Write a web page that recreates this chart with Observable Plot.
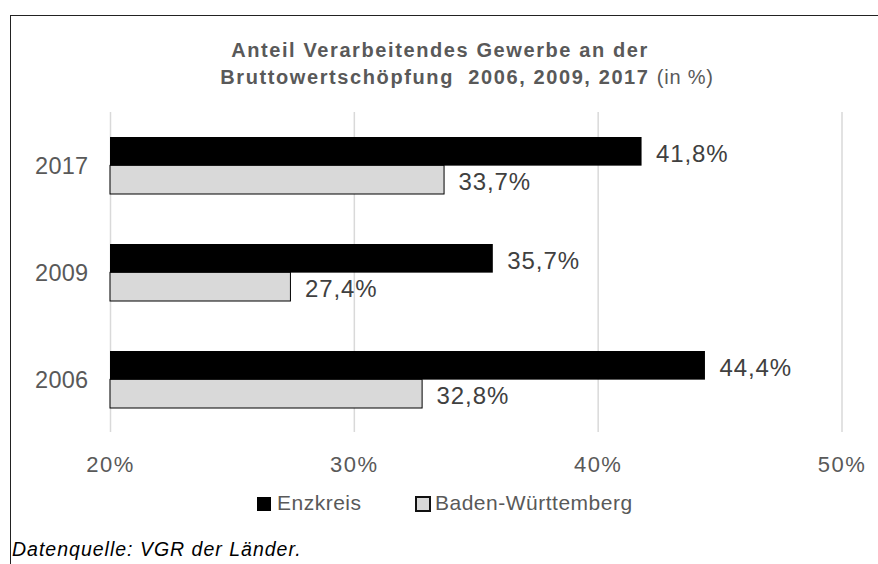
<!DOCTYPE html>
<html>
<head>
<meta charset="utf-8">
<script src="https://cdn.jsdelivr.net/npm/d3@7"></script>
<script src="https://cdn.jsdelivr.net/npm/@observablehq/plot@0.6"></script>
<style>
  html, body { margin: 0; padding: 0; background: #fff; }
  #wrap { position: relative; width: 878px; height: 564px; overflow: hidden; font-family: "Liberation Sans", Arial, sans-serif; }
  #frame { position: absolute; left: 10px; top: 15px; width: 900px; height: 600px; border-top: 1px solid #222; border-left: 1px solid #222; }
  #chart { position: absolute; left: 0; top: 0; }
  .t { position: absolute; white-space: nowrap; color: #595959; font-weight: bold; font-size: 20px; line-height: 20px; letter-spacing: 1.6px; transform: translateX(-50%); }
  .t .n { font-weight: normal; letter-spacing: 0.8px; }
  .item { position: absolute; top: 492px; font-size: 21px; line-height: 21px; color: #595959; white-space: nowrap; letter-spacing: 0.5px; }
  .item .sw { display: inline-block; width: 14px; height: 14px; vertical-align: -1px; margin-right: 6px; box-sizing: border-box; }
  #caption { position: absolute; left: 12px; top: 540px; font-size: 19.5px; line-height: 19.5px; font-style: italic; color: #000; white-space: nowrap; letter-spacing: 1px; }
</style>
</head>
<body>
<div id="wrap">
  <div id="frame"></div>
  <div id="chart"></div>
  <div class="t" style="top:40px; left:440px;">Anteil Verarbeitendes Gewerbe an der</div>
  <div class="t" style="top:67px; left:467px;">Bruttowertschöpfung&nbsp; 2006, 2009, 2017 <span class="n">(in %)</span></div>
  <div id="legend"></div>
  <div id="caption">Datenquelle: VGR der Länder.</div>
</div>
<script>
const years = ["2017", "2009", "2006"];
const enzkreis = [41.8, 35.7, 44.4];
const badenWuerttemberg = [33.7, 27.4, 32.8];
const xTicks = [20, 30, 40, 50];
const seriesNames = ["Enzkreis", "Baden-Württemberg"];
const seriesFill = ["#000000", "#d9d9d9"];

const data = years.map((y, i) => ({year: y, enz: enzkreis[i], bw: badenWuerttemberg[i]}));
const fmt = v => v.toFixed(1).replace(".", ",") + "%";

const H = 564, mTop = 112, mBottom = 132;
const padInner = 0.47, padOuter = 0.23;
const step = (H - mTop - mBottom) / (years.length - padInner + 2 * padOuter);
const half = step * (1 - padInner) / 2;

const chart = Plot.plot({
  width: 878,
  height: H,
  marginLeft: 110,
  marginRight: 36.5,
  marginTop: mTop,
  marginBottom: mBottom,
  style: {fontFamily: "'Liberation Sans', Arial, sans-serif", fontSize: "21px", color: "#595959", background: "transparent"},
  x: {domain: [20, 50], label: null},
  y: {domain: years, paddingInner: padInner, paddingOuter: padOuter, label: null},
  marks: [
    Plot.ruleX(xTicks, {stroke: "#d9d9d9", strokeWidth: 1.5}),
    Plot.barX(data, {y: "year", x1: d => 20, x2: "enz", fill: seriesFill[0], insetBottom: half}),
    Plot.barX(data, {y: "year", x1: d => 20, x2: "bw", fill: seriesFill[1], stroke: "#000", strokeWidth: 1, insetTop: half}),
    Plot.text(data, {y: "year", x: "enz", text: d => fmt(d.enz), dx: 14, dy: -half / 2 + 2, textAnchor: "start", fill: "#404040", fontSize: 24, style: "letter-spacing:0.9px"}),
    Plot.text(data, {y: "year", x: "bw", text: d => fmt(d.bw), dx: 14, dy: half / 2 + 2, textAnchor: "start", fill: "#404040", fontSize: 24, style: "letter-spacing:0.9px"}),
    Plot.axisX(xTicks, {tickSize: 0, tickPadding: 24, tickFormat: d => d + "%", fontSize: 22}),
    Plot.axisY(years, {tickSize: 0, tickPadding: 22, fontSize: 23.5})
  ]
});
chart.querySelectorAll("[aria-label='x-axis tick label'] text").forEach(t => t.style.letterSpacing = "1.5px");
chart.querySelectorAll("[aria-label='y-axis tick label'] text").forEach(t => t.style.letterSpacing = "0.3px");
chart.querySelectorAll("[aria-label='text'] text").forEach(t => t.style.letterSpacing = "0.9px");
document.getElementById("chart").appendChild(chart);

const legendX = [257, 415];
const wrap = document.getElementById("wrap");
seriesNames.forEach((name, i) => {
  const item = document.createElement("div");
  item.className = "item";
  item.style.left = legendX[i] + "px";
  const sw = document.createElement("span");
  sw.className = "sw";
  sw.style.background = seriesFill[i];
  if (i === 1) { sw.style.border = "2px solid #111"; sw.style.width = "16px"; sw.style.height = "16px"; sw.style.verticalAlign = "-2px"; sw.style.marginRight = "4px"; }
  item.appendChild(sw);
  item.appendChild(document.createTextNode(name));
  wrap.appendChild(item);
});
</script>
</body>
</html>
